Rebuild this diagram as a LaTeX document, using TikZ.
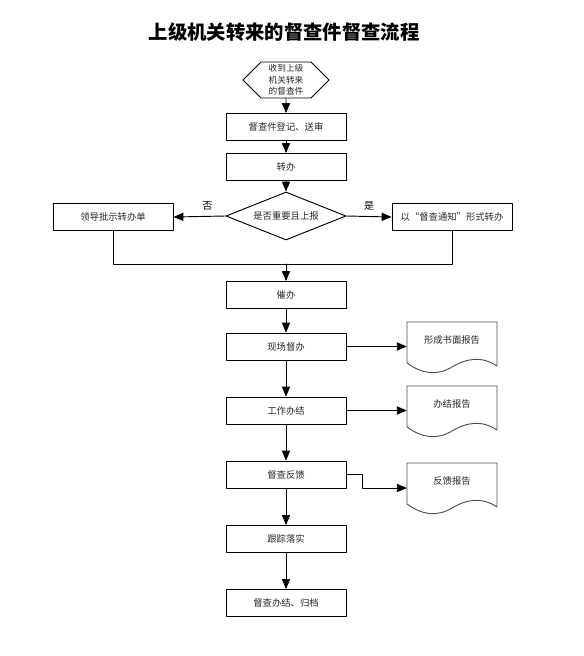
\documentclass[tikz,border=0pt]{standalone}
\usepackage{fontspec}
\newfontfamily\cjk{Noto Sans CJK SC}
\usetikzlibrary{shapes, shapes.geometric, shapes.symbols, calc, arrows}

% outline of a report sheet round a node
\newcommand{\reportsheet}[1]{%
\draw[sheetline] ($(#1)+(-45,-18)$) -- ($(#1)+(45,-18)$) -- ($(#1)+(45,26)$)
  .. controls ($(#1)+(30,16)$) and ($(#1)+(15,18)$) .. ($(#1)+(0,27)$)
  .. controls ($(#1)+(-15,36)$) and ($(#1)+(-30,34)$) .. ($(#1)+(-45,23)$) -- cycle;}

\begin{document}
\begin{tikzpicture}[line cap=round,line join=round,>=triangle 45,x=0.75pt,y=-0.75pt,
  box/.style={draw, line width=0.7pt, minimum width=90pt, minimum height=20.25pt, inner sep=1pt,
    font=\cjk\fontsize{7}{8}\selectfont, text=black!85},
  sheet/.style={minimum width=67.5pt, inner sep=1pt, font=\cjk\fontsize{7}{8}\selectfont, text=black!85},
  sheetline/.style={draw=black!70, line width=0.7pt},
  flow/.style={->, line width=0.7pt},
  wire/.style={line width=0.7pt}]
\useasboundingbox (0,0) rectangle (584,656);

% title
\node (title) at (284,32) {\cjk\bfseries\fontsize{14.5}{16}\selectfont 上级机关转来的督查件督查流程};

% main column
\node[draw, line width=0.7pt, shape=signal, signal to=west and east, signal pointer angle=90,
  minimum width=64.5pt, minimum height=27pt, inner sep=0pt, align=center,
  font=\cjk\fontsize{6.5}{8.6}\selectfont, text=black!85] (recv) at (286,80) {收到上级\\机关转来\\的督查件};
\node[box] (reg) at (286,127) {督查件登记、送审};
\node[box] (pass) at (286,167) {转办};
\node[draw, line width=0.7pt, diamond, aspect=2.5, minimum width=90pt, minimum height=36pt, inner sep=0pt,
  font=\cjk\fontsize{7}{8}\selectfont, text=black!85] (ask) at (286,216) {是否重要且上报};
\node[box] (lead) at (113,217) {领导批示转办单};
\node[box] (note) at (452,217) {以“督查通知”形式转办};
\coordinate (merge) at (286,264);
\node[box] (urge) at (286,295) {催办};
\node[box] (site) at (286,346.5) {现场督办};
\node[box] (done) at (286,410.5) {工作办结};
\node[box] (back) at (286,474.5) {督查反馈};
\node[box] (track) at (286,539) {跟踪落实};
\node[box] (file) at (286,603) {督查办结、归档};

% reports
\node[sheet] (rep1) at (452,340) {形成书面报告};
\node[sheet] (rep2) at (452,404) {办结报告};
\node[sheet] (rep3) at (452,481) {反馈报告};
\foreach \r in {rep1,rep2,rep3} {\reportsheet{\r}}

% connectors
\draw[flow] (recv) -- (reg);
\draw[flow] (reg) -- (pass);
\draw[flow] (pass) -- (ask);
\draw[flow] (ask.west) -- node[pos=0.35, above=1pt, font=\cjk\fontsize{7.5}{8}\selectfont] {否} (lead.east);
\draw[flow] (ask.east) -- node[pos=0.5, above=1pt, font=\cjk\fontsize{7.5}{8}\selectfont] {是} (note.west);
\draw[wire] (lead.south) |- (merge);
\draw[wire] (note.south) |- (merge);
\draw[flow] (merge) -- (urge);
\draw[flow] (urge) -- (site);
\draw[flow] (site) -- (done);
\draw[flow] (done) -- (back);
\draw[flow] (back) -- (track);
\draw[flow] (track) -- (file);
\draw[flow] (site.east) -- (site.east -| rep1.west);
\draw[flow] (done.east) -- (done.east -| rep2.west);
\draw[flow] (back.east) -- ++(16,0) |- ($(rep3.west)+(0,7)$);
\end{tikzpicture}
\end{document}
